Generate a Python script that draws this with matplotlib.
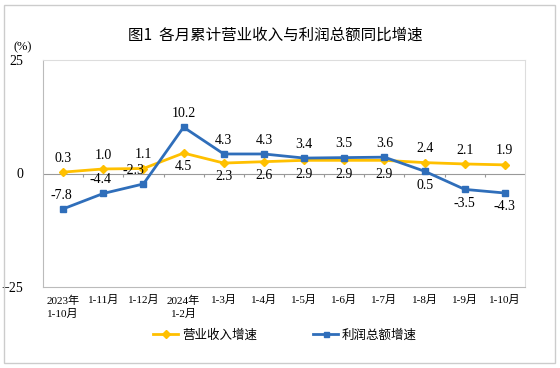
import matplotlib.pyplot as plt
import numpy as np

plt.rcParams['font.family'] = ['Liberation Serif', 'Noto Sans CJK SC']

months = ['2023年\n1-10月', '1-11月', '1-12月', '2024年\n1-2月', '1-3月', '1-4月',
          '1-5月', '1-6月', '1-7月', '1-8月', '1-9月', '1-10月']
revenue = [0.3, 1.0, 1.1, 4.5, 2.3, 2.6, 2.9, 2.9, 2.9, 2.4, 2.1, 1.9]
profit = [-7.8, -4.4, -2.3, 10.2, 4.3, 4.3, 3.4, 3.5, 3.6, 0.5, -3.5, -4.3]
# label side: 1 above, -1 below
rev_side = [1, 1, 1, -1, -1, -1, -1, -1, -1, 1, 1, 1]
pro_side = [1, 1, 1, 1, 1, 1, 1, 1, 1, -1, -1, -1]
pro_dx = [-1, -2, -7, 0, 0, 0, 0, 0, 0, 0, 0, 0]

blue = '#2F6EBA'
gold = '#FFC000'

fig = plt.figure(figsize=(5.6, 3.68), dpi=100)
ax = fig.add_axes([43 / 560, 1 - 287 / 368, 482 / 560, 227 / 368])

x = np.arange(len(months))
ax.plot(x, revenue, color=gold, lw=2, marker='D', ms=4.5, label='营业收入增速', zorder=3)
ax.plot(x, profit, color=blue, lw=2, marker='s', ms=4.5, label='利润总额增速', zorder=4)

for i in x:
    ax.annotate(f'{revenue[i]:.1f}', (i, revenue[i]), xytext=(0, 10 * rev_side[i]),
                textcoords='offset points', ha='center', va='center', fontsize=10)
    ax.annotate(f'{profit[i]:.1f}', (i, profit[i]), xytext=(pro_dx[i], 10 * pro_side[i]),
                textcoords='offset points', ha='center', va='center', fontsize=10)

# zero line with category tick marks
ax.axhline(0, color='#999999', lw=0.8, zorder=1)
ax.vlines(np.arange(0.5, len(months) - 1), -0.7, 0, color='#999999', lw=0.8)

ax.set_xlim(-0.5, len(months) - 0.5)
ax.set_ylim(-25, 25)
ax.set_yticks([-25, 0, 25])
ax.set_xticks(x)
ax.set_xticklabels(months, fontsize=8, linespacing=1.4, va='top')
ax.tick_params(length=0, pad=6)
ax.tick_params(axis='y', labelsize=10, pad=14)
for s in ax.spines.values():
    s.set_color('#BBBBBB')
    s.set_linewidth(0.8)
ax.spines['top'].set_color('#DDDDDD')
ax.spines['right'].set_color('#DDDDDD')

fig.text(14 / 560, 1 - 47 / 368, '(%)', fontsize=9, ha='left', va='center')
fig.text(275 / 560, 1 - 35 / 368, '图1  各月累计营业收入与利润总额同比增速',
         fontsize=11.2, ha='center', va='center', family=['Noto Sans CJK SC'])

fig.legend(loc='center', bbox_to_anchor=(285 / 560, 1 - 335 / 368), ncol=2, frameon=False,
           columnspacing=4.5, handlelength=2, handletextpad=0.3, markerscale=0.8,
           prop={'family': ['Noto Sans CJK SC'], 'size': 9})

fig.patches.append(plt.Rectangle((4 / 560, 5 / 368), 551 / 560, 358 / 368, fill=False,
                                 edgecolor='#CCCCCC', lw=1, transform=fig.transFigure))

fig.savefig('out.png', dpi=100)
